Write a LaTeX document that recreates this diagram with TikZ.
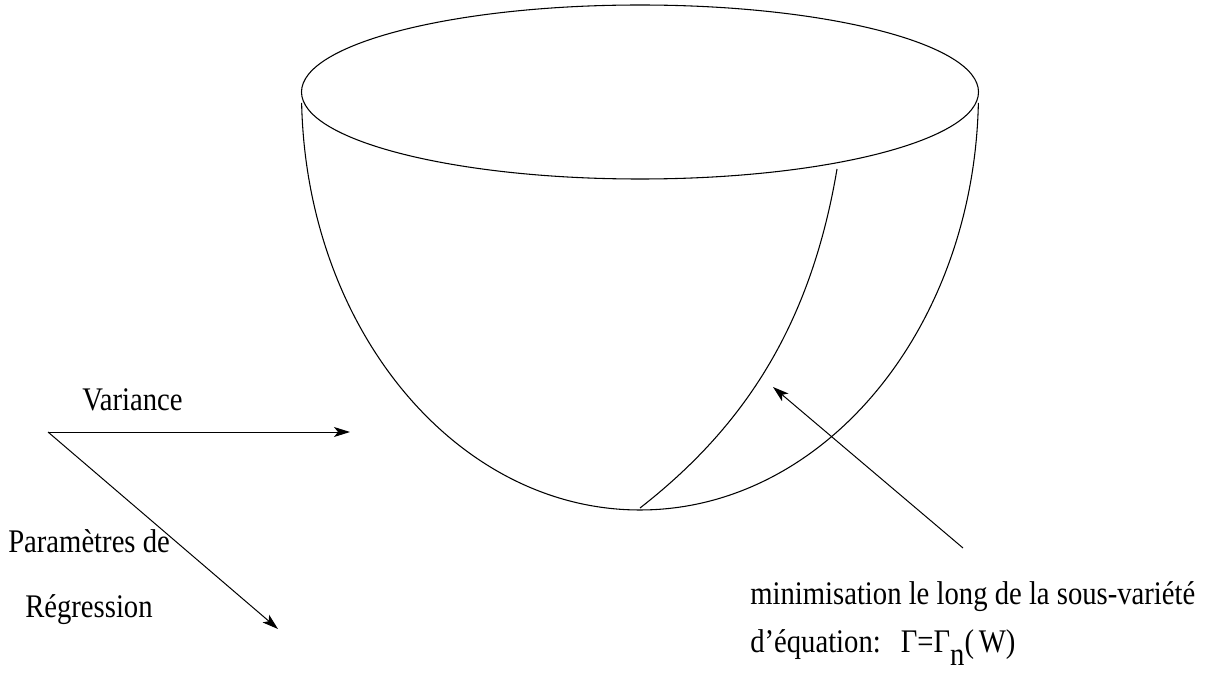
\documentclass[tikz,border=0pt]{standalone}
\usepackage{fontspec}
\setmainfont{Liberation Serif}
\usetikzlibrary{arrows.meta}
\newcommand{\tx}[1]{\scalebox{1}[1.15]{#1}}
\tikzset{
  line/.style={line width=0.8pt, black},
  arr/.style={line width=0.75pt, -{Stealth[length=12pt,width=7.5pt,inset=3pt]}},
  lbl/.style={anchor=base west, inner sep=0pt, font=\fontsize{21.5}{25}\selectfont},
}
\begin{document}
\begin{tikzpicture}[x=0.75pt,y=-0.75pt]
\useasboundingbox (0,0) rectangle (1206,684);
% top ellipse
\draw[line] (640,92) ellipse [x radius=338.5, y radius=87];
% bowl
\draw[line] (640,92) ++(178.5:338.5 and 418) arc [start angle=178.5, end angle=1.5, x radius=338.5, y radius=418];
% inner curve (sub-manifold)
\coordinate (cb) at (640,508);
\coordinate (ct) at (837,169);
\draw[line] (cb) .. controls (740,430) and (810,330) .. (ct);
% axes
\coordinate (o) at (48,432);
\coordinate (v) at (350,432);
\coordinate (r) at (278,629);
\draw[arr] (o) -- (v);
\draw[arr] (o) -- (r);
% pointer
\coordinate (t) at (963,548);
\coordinate (h) at (773,387);
\draw[arr] (t) -- (h);
% labels
\node[lbl] (lv) at (82,410) {\tx{Variance}};
\node[lbl] (lp) at (8,552) {\tx{Paramètres de}};
\node[lbl] (lr) at (25,617) {\tx{Régression}};
\node[lbl] (lm) at (750,604) {\tx{minimisation le long de la sous-variété}};
\node[lbl] (le) at (750,652) {\tx{d’équation:\hspace{0.7em}Γ=Γ\raisebox{-0.4em}{n}(\,W)}};
\end{tikzpicture}
\end{document}
